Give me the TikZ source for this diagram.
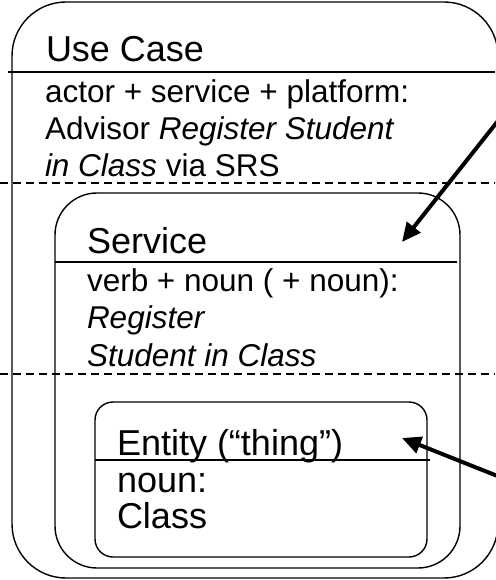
\documentclass[tikz,border=0pt]{standalone}
\usepackage{fontspec}
\setmainfont{Liberation Sans}
\usetikzlibrary{arrows.meta}

\begin{document}
\begin{tikzpicture}[
  x=1pt, y=-1pt,
  every node/.style={inner sep=0pt, outer sep=0pt},
  tier/.style={draw, line width=1.4pt},
  heading/.style={anchor=base west, font=\fontsize{36}{43}\selectfont},
  body/.style={anchor=base west, align=left, font=\fontsize{31.5}{36.8}\selectfont},
  divider/.style={line width=1.4pt},
  swimline/.style={line width=1.3pt, dash pattern=on 8pt off 5pt},
  pointer/.style={-{Triangle[length=19pt,width=17pt]}, line width=4pt},
]
\useasboundingbox (0,0) rectangle (495,580);

% nested boxes
\node[tier, rounded corners=54pt, minimum width=486pt, minimum height=576pt] (usecase) at (255,290) {};
\node[tier, rounded corners=42pt, minimum width=405pt, minimum height=375pt] (service) at (257.5,380.5) {};
\node[tier, rounded corners=18pt, minimum width=332pt, minimum height=155pt] (entity) at (261,479.5) {};

% header rules
\draw[divider] ([xshift=-4pt]usecase.west |- 0,72) -- (495,72);
\draw[divider] (service.west |- 0,262) -- ([xshift=-3pt]service.east |- 0,262);
\draw[divider] (entity.west |- 0,460) -- ([xshift=3pt]entity.east |- 0,460);

% dashed level lines
\draw[swimline] (0,183) -- (495,183);
\draw[swimline] (0,374) -- (495,374);

% texts (body anchors sit on the last line)
\node[heading] (uctitle) at (46,62) {Use Case};
\node[body] (ucbody) at (45,176)
  {actor + service + platform:\\Advisor \textit{Register Student}\\\textit{in Class} via SRS};
\node[heading] (svtitle) at (87,253) {Service};
\node[body, font=\fontsize{31.5}{37.5}\selectfont] (svbody) at (87,366)
  {verb + noun ( + noun):\\\textit{Register}\\\textit{Student in Class}};
\node[heading] (entitle) at (117,455) {Entity (“thing”)};
\node[body, font=\fontsize{36}{35.6}\selectfont] (enbody) at (117,528)
  {noun:\\Class};

% pointers coming in from the right
\coordinate (svfrom) at (505,112);
\coordinate (enfrom) at (505,479);
\draw[pointer] (svfrom) -- ([xshift=-58pt,yshift=-49pt]service.north east);
\draw[pointer] (enfrom) -- ([xshift=-25pt,yshift=-36pt]entity.north east);
\end{tikzpicture}
\end{document}
